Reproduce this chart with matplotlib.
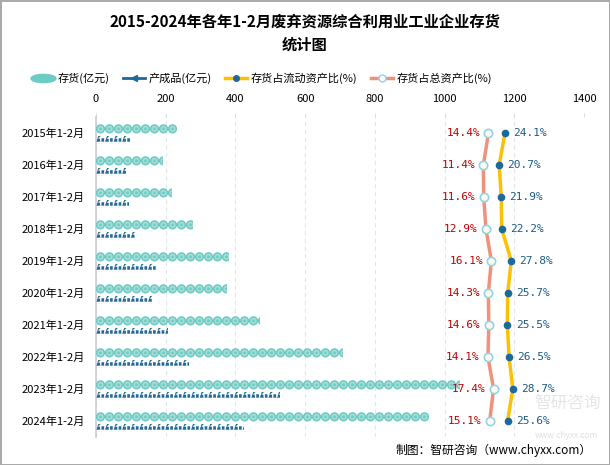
import matplotlib
matplotlib.use("Agg")
import matplotlib.pyplot as plt
import numpy as np
from matplotlib.lines import Line2D
from matplotlib.patches import Rectangle
from matplotlib.path import Path

plt.rcParams['font.family'] = ['Noto Sans CJK SC', 'DejaVu Sans']

categories = ["2015年1-2月", "2016年1-2月", "2017年1-2月", "2018年1-2月", "2019年1-2月",
              "2020年1-2月", "2021年1-2月", "2022年1-2月", "2023年1-2月", "2024年1-2月"]
inventory = [233, 192, 218, 278, 382, 376, 470, 709, 1045, 955]
finished = [98, 86, 95, 112, 175, 160, 207, 267, 528, 425]
ratio_current = [24.1, 20.7, 21.9, 22.2, 27.8, 25.7, 25.5, 26.5, 28.7, 25.6]
ratio_total = [14.4, 11.4, 11.6, 12.9, 16.1, 14.3, 14.6, 14.1, 17.4, 15.1]
xticks = [0, 200, 400, 600, 800, 1000, 1200, 1400]

teal = '#6ecbc4'
teal_in = '#a6ddd9'
navy = '#1d6a98'
yellow = '#ffc000'
salmon = '#f0917b'
red_txt = '#c00000'
blue_txt = '#1d5b84'

fig = plt.figure(figsize=(6.1, 4.65), dpi=100)
fig.patch.set_edgecolor('#aaaaaa')
fig.patch.set_linewidth(2)
ax = fig.add_axes([96/610, 1-437/465, 488/610, 320/465])

n = len(categories)
y = np.arange(n)
ax.set_xlim(0, 1400)
ax.set_ylim(n-0.5, -0.5)

# pictorial circles
px_per_unit = 488/1400
step = 9.0/px_per_unit
for i, v in enumerate(inventory):
    xs = np.arange(step/2, v + step/2, step)
    clip = Rectangle((0, i-0.4), v, 0.5, transform=ax.transData)
    s1 = ax.scatter(xs, np.full(len(xs), i-0.13), s=6.7**2, color=teal, edgecolors='none', zorder=3)
    s2 = ax.scatter(xs, np.full(len(xs), i-0.13), s=4.4**2, facecolors=teal_in, edgecolors='none', zorder=4)
    s3 = ax.scatter(xs, np.full(len(xs), i-0.13), s=2.0**2, facecolors=teal, edgecolors='none', zorder=5)
    for s in (s1, s2, s3):
        s.set_clip_path(clip)

# finished-goods icons
icon = Path([(-1, -0.6), (-0.5, 0.9), (0.1, 0.9), (-0.6, 0.2), (-0.1, 0.2),
             (0.0, -0.6), (0.3, -0.6), (0.3, 0.3), (1.0, 0.3), (1.0, -0.6), (-1, -0.6)])
fstep = 8.6/px_per_unit
for i, v in enumerate(finished):
    xs = np.arange(fstep/2, v + fstep/2, fstep)
    clip = Rectangle((0, i+0.05), v, 0.35, transform=ax.transData)
    s = ax.scatter(xs, np.full(len(xs), i+0.2), s=5.5**2, marker=icon, color=navy,
                   edgecolors='none', zorder=3)
    s.set_clip_path(clip)

ax.set_yticks(y)
ax.set_yticklabels(categories, fontsize=8)
ax.tick_params(axis='y', length=0, pad=8)
ax.grid(axis='x', color='#e6e6e6', linestyle=(0, (4, 3)), linewidth=0.8)
ax.set_axisbelow(True)
for sp in ('top', 'right', 'bottom'):
    ax.spines[sp].set_visible(False)
ax.spines['left'].set_color('#cccccc')
ax.spines['left'].set_linewidth(1.2)

# percentage axis
ax2 = ax.twiny()
ax2.set_xlim((96-464)/1.7, (584-464)/1.7)
ax2.set_ylim(n-0.5, -0.5)
ax2.axis('off')
ax2.plot(ratio_total, y, color=salmon, lw=2.5, zorder=5)
ax2.plot(ratio_total, y, 'o', ms=6, mfc='#fffbe8', mec='#8fd3f0', mew=1.2, zorder=6)
ax2.plot(ratio_current, y, color=yellow, lw=2.5, zorder=5)
ax2.plot(ratio_current, y, 'o', ms=4.5, mfc=navy, mec=navy, zorder=6)
for i in range(n):
    ax2.annotate(f"{ratio_total[i]:.1f}%", (ratio_total[i], i), xytext=(-6, 0),
                 textcoords='offset points', ha='right', va='center', fontsize=8,
                 color=red_txt, family='DejaVu Sans Mono', zorder=7)
    ax2.annotate(f"{ratio_current[i]:.1f}%", (ratio_current[i], i), xytext=(6, 0),
                 textcoords='offset points', ha='left', va='center', fontsize=8,
                 color=blue_txt, family='DejaVu Sans Mono', zorder=7)

# top value axis (after twiny)
ax.xaxis.set_ticks_position('top')
ax.xaxis.set_label_position('top')
ax.set_xticks(xticks)
ax.set_xticklabels([str(t) for t in xticks], fontsize=8)
ax.tick_params(axis='x', which='both', top=True, bottom=False, labeltop=True, labelbottom=False,
               length=3, color='#dddddd', pad=6)

# title
fig.text(0.5, 1-22/465, "2015-2024年各年1-2月废弃资源综合利用业工业企业存货", ha='center', va='center',
         fontsize=11, fontweight='bold')
fig.text(0.5, 1-45/465, "统计图", ha='center', va='center', fontsize=11, fontweight='bold')

# legend
ell = Path.unit_circle()
ell = Path(ell.vertices * np.array([1.0, 0.33]), ell.codes)
handles = [
    Line2D([], [], ls='none', marker=ell, ms=18, mfc=teal, mec=teal),
    Line2D([], [], color=navy, lw=2, marker='<', ms=4, mfc=navy, mec=navy, markevery=[0]),
    Line2D([], [], color=yellow, lw=2.5, marker='o', ms=4, mfc=navy, mec=navy),
    Line2D([], [], color=salmon, lw=2.5, marker='o', ms=5, mfc='white', mec='#8fd3f0'),
]
labels = ["存货(亿元)", "产成品(亿元)", "存货占流动资产比(%)", "存货占总资产比(%)"]
fig.legend(handles, labels, loc='center', bbox_to_anchor=(262/610, 1-78/465), ncol=4,
           frameon=False, fontsize=8, handlelength=2.0, handletextpad=0.3, columnspacing=1.2)

# watermark & credit
fig.text(568/610, 1-403/465, "智研咨询", ha='center', va='center', fontsize=12, color='#cccccc',
         alpha=0.5, zorder=0)
fig.text(566/610, 1-435/465, "www.chyxx.com", ha='center', va='center', fontsize=6,
         color='#cccccc', alpha=0.6, zorder=0)
fig.text(592/610, 1-450/465, "制图：智研咨询（www.chyxx.com）", ha='right', va='center', fontsize=8.5)

fig.savefig("out.png", dpi=100)
